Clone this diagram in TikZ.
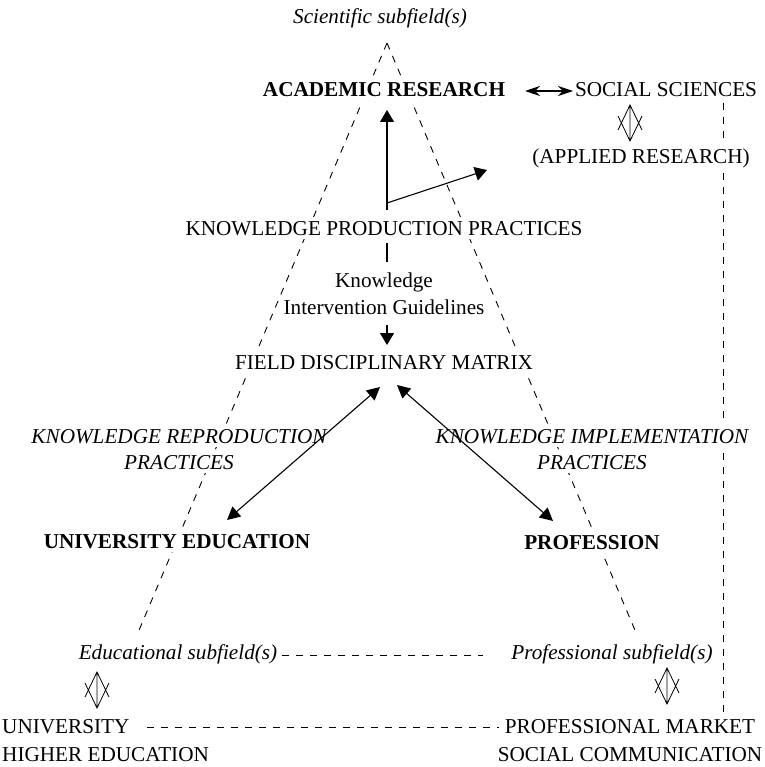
\documentclass[tikz,border=0pt]{standalone}
\usepackage{fontspec}
\setmainfont{Liberation Serif}
\usetikzlibrary{arrows.meta,calc,backgrounds}
\begin{document}
\begin{tikzpicture}[x=1pt,y=-1pt,
  lbl/.style={anchor=base, inner sep=4pt, fill=white, font=\fontsize{21.2}{27}\selectfont},
  bl/.style={lbl, font=\fontsize{21.2}{27}\selectfont\bfseries},
  il/.style={lbl, font=\fontsize{21.2}{27}\selectfont\itshape},
  dsh/.style={line width=0.9pt, dash pattern=on 7pt off 7pt},
  con/.style={line width=1.1pt},
  tri/.style={-{Triangle[length=12pt,width=14pt]}},
  dtri/.style={{Triangle[length=13pt,width=13pt]}-{Triangle[length=13pt,width=13pt]}},
  dst/.style={{Stealth[length=15pt,width=10pt]}-{Stealth[length=15pt,width=10pt]}},
  vsym/.pic={\draw[line width=0.8pt] (0,0)--(0,36) (-12,25)--(0,0)--(12,25) (-12,11)--(0,36)--(12,11);}
]
\useasboundingbox (0,0) rectangle (764,767);

% text nodes
\node[il] (sci) at (380,24) {Scientific subfield(s)};
\node[bl, inner sep=6pt] (ar) at (384,97) {ACADEMIC RESEARCH};
\node[lbl] (ss) at (666,97) {SOCIAL SCIENCES};
\node[lbl] (apr) at (641,164) {(APPLIED RESEARCH)};
\node[lbl] (kpp) at (384,235) {KNOWLEDGE PRODUCTION PRACTICES};
\node[lbl, fill=none] (kig) at (384,287) {\begin{tabular}[t]{@{}c@{}}Knowledge\\Intervention Guidelines\end{tabular}};
\node[lbl] (fdm) at (384,369) {FIELD DISCIPLINARY MATRIX};
\node[il] (krp) at (179,443) {KNOWLEDGE REPRODUCTION};
\node[il] (krp2) at (179,469) {PRACTICES};
\node[il] (kip) at (592,443) {KNOWLEDGE IMPLEMENTATION};
\node[il] (kip2) at (592,469) {PRACTICES};
\node[bl] (ue) at (177,548) {UNIVERSITY EDUCATION};
\node[bl] (prof) at (592,549) {PROFESSION};
\node[il] (edu) at (178,659) {Educational subfield(s)};
\node[il] (pro) at (612,659) {Professional subfield(s)};
\node[lbl, fill=none, anchor=base west, inner sep=0pt, font=\fontsize{21.2}{28}\selectfont] (uhe) at (2,733) {\begin{tabular}[t]{@{}l@{}}UNIVERSITY\\HIGHER EDUCATION\end{tabular}};
\node[lbl, fill=none, inner sep=0pt, font=\fontsize{21.2}{28}\selectfont] (pmsc) at (630,733) {\begin{tabular}[t]{@{}c@{}}PROFESSIONAL MARKET\\SOCIAL COMMUNICATION\end{tabular}};

% dashed structure
\begin{scope}[on background layer]
\coordinate (apex) at ($(sci.base)+(7,19)$);
\draw[dsh] (apex) -- ($(edu.base)+(-41,-24)$);
\draw[dsh] (apex) -- ($(pro.base)+(25,-24)$);
\draw[dsh] ($(edu.base)+(104,-4)$) -- ($(pro.base)+(-129,-4)$);
\draw[dsh] ($(uhe.base west)+(145,-6)$) -- ($(pmsc.base)+(-131,-6)$);
\draw[dsh] ($(ss.base)+(57,6)$) -- ($(pmsc.base)+(93,-21)$);
\end{scope}

% connectors
\draw[con, tri] ($(kpp.base)+(3,-25)$) -- ($(ar.base)+(3,13)$);
\draw[con, tri] ($(kpp.base)+(3,-32)$) -- ($(apr.base)+(-154,6)$);
\draw[con] ($(kpp.base)+(3,8)$) -- ($(kig.base)+(3,-25)$);
\draw[con, tri] ($(kig.base)+(3,38)$) -- ($(fdm.base)+(3,-24)$);
\draw[con, dtri] ($(fdm.base)+(-4,18)$) -- ($(ue.base)+(50,-28)$);
\draw[con, dtri] ($(fdm.base)+(13,16)$) -- ($(prof.base)+(-39,-28)$);
\draw[con, dst] ($(ar.base)+(141,-6)$) -- ($(ss.base)+(-93,-6)$);

% double-headed vertical symbols
\pic at ($(ss.base)+(-36,8)$) {vsym};
\pic at ($(edu.base)+(-81,13)$) {vsym};
\pic at ($(pro.base)+(55,9)$) {vsym};
\end{tikzpicture}
\end{document}
